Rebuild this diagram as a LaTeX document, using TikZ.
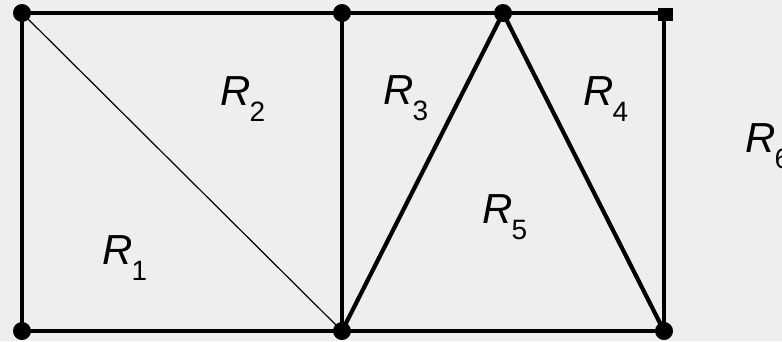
\documentclass[tikz,border=0pt]{standalone}
\usepackage{fontspec}
\setmainfont{Liberation Sans}
\newcommand{\regionlabel}[1]{{\fontsize{42}{42}\selectfont\itshape R}{\fontsize{28}{28}\selectfont\kern-1pt\raisebox{-16pt}{#1}}}
\begin{document}
\begin{tikzpicture}[x=1pt,y=-1pt,
  vertex/.style={circle,fill=black,inner sep=0pt,minimum size=18pt},
  sqvertex/.style={rectangle,fill=black,inner sep=0pt,minimum width=15pt,minimum height=13pt},
  edge/.style={line width=4.2pt},
  thinedge/.style={line width=1.2pt},
  rlabel/.style={anchor=base west,inner sep=0pt}]
\fill[fill={rgb,255:red,238;green,238;blue,238}] (0,0) rectangle (782,341);
\useasboundingbox (0,0) rectangle (782,341);
\coordinate (tl) at (22,13);
\coordinate (tm) at (342,13);
\coordinate (ap) at (503,13);
\coordinate (tr) at (664,13);
\coordinate (bl) at (22,331);
\coordinate (bm) at (342,331);
\coordinate (br) at (664,331);
\draw[edge] (tl) -- (tr) -- (br) -- (bl) -- cycle;
\draw[edge] (tm) -- (bm);
\draw[edge] (bm) -- (ap) -- (br);
\draw[thinedge] (tl) -- (bm);
\node[vertex] (vtl) at (tl) {};
\node[vertex] (vtm) at (tm) {};
\node[vertex] (vap) at (ap) {};
\node[sqvertex] (vtr) at (665,14) {};
\node[vertex] (vbl) at (bl) {};
\node[vertex] (vbm) at (bm) {};
\node[vertex] (vbr) at (br) {};
\node[rlabel] (r1) at (102,264) {\regionlabel{1}};
\node[rlabel] (r2) at (220,105) {\regionlabel{2}};
\node[rlabel] (r3) at (383,104) {\regionlabel{3}};
\node[rlabel] (r4) at (583,105) {\regionlabel{4}};
\node[rlabel] (r5) at (482,223) {\regionlabel{5}};
\node[rlabel] (r6) at (745,152) {\regionlabel{6}};
\end{tikzpicture}
\end{document}
